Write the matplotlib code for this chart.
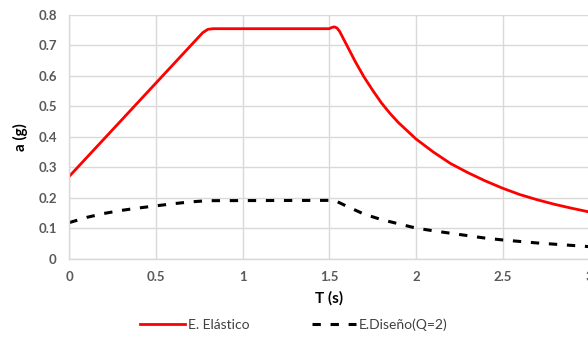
import matplotlib
matplotlib.use("Agg")
import matplotlib.pyplot as plt
from matplotlib.lines import Line2D

plt.rcParams['lines.scale_dashes'] = False

# Elastic spectrum (red)
T_el = [0.0, 0.77, 0.80, 0.83, 1.50, 1.515, 1.53, 1.545, 1.56, 1.60, 1.65, 1.70, 1.75,
        1.80, 1.85, 1.90, 2.0, 2.1, 2.2, 2.3, 2.4, 2.5, 2.6, 2.7, 2.8, 2.9, 3.0]
a_el = [0.27, 0.742, 0.753, 0.755, 0.755, 0.759, 0.761, 0.757, 0.746, 0.702, 0.647,
        0.597, 0.553, 0.512, 0.477, 0.446, 0.393, 0.350, 0.312, 0.282, 0.255, 0.231,
        0.210, 0.193, 0.178, 0.165, 0.153]

# Design spectrum (black dashed)
T_di = [0.0, 0.1, 0.2, 0.3, 0.4, 0.5, 0.6, 0.7, 0.8, 1.53, 1.6, 1.7, 1.8, 1.9, 2.0,
        2.1, 2.2, 2.3, 2.4, 2.5, 2.6, 2.7, 2.8, 2.9, 3.0]
a_di = [0.118, 0.135, 0.148, 0.158, 0.166, 0.173, 0.180, 0.186, 0.190, 0.191, 0.172,
        0.146, 0.128, 0.114, 0.100, 0.091, 0.083, 0.075, 0.067, 0.061, 0.056, 0.051,
        0.047, 0.043, 0.039]

xticks = [0, 0.5, 1, 1.5, 2, 2.5, 3]
xtick_labels = ["0", "0.5", "1", "1.5", "2", "2.5", "3"]
yticks = [0, 0.1, 0.2, 0.3, 0.4, 0.5, 0.6, 0.7, 0.8]
ytick_labels = ["0", "0.1", "0.2", "0.3", "0.4", "0.5", "0.6", "0.7", "0.8"]

font = "Lato"
fig = plt.figure(figsize=(5.88, 3.43), dpi=100)
ax = fig.add_axes([69.3/588, 1-258.5/343, (589.2-69.3)/588, (258.5-15)/343])

ax.plot(T_el, a_el, color="#ff0000", lw=2.0, label="E. Elástico",
        solid_joinstyle="round")
ax.plot(T_di, a_di, color="black", lw=2.2, dashes=(6, 7), label="E.Diseño(Q=2)")

ax.set_xlim(0, 3)
ax.set_ylim(0, 0.8)
ax.set_xticks(xticks)
ax.set_xticklabels(xtick_labels)
ax.set_yticks(yticks)
ax.set_yticklabels(ytick_labels)
ax.grid(True, color="#d9d9d9", lw=1.0)
ax.set_axisbelow(True)
for s in ["top", "right"]:
    ax.spines[s].set_visible(False)
for s in ["left", "bottom"]:
    ax.spines[s].set_color("#d9d9d9")
    ax.spines[s].set_linewidth(1.0)
ax.tick_params(length=0, pad=9, labelsize=9.5, colors="#595959")
for lab in ax.get_xticklabels() + ax.get_yticklabels():
    lab.set_fontweight("bold")
    lab.set_fontfamily(font)

ax.set_xlabel("T (s)", fontsize=11, fontweight="bold", fontfamily=font, labelpad=6)
ax.set_ylabel("a (g)", fontsize=11, fontweight="bold", fontfamily=font, labelpad=7)

handles = [Line2D([], [], color="#ff0000", lw=2.0),
           Line2D([], [], color="black", lw=2.2, dashes=(6, 7))]
leg = fig.legend(handles, ["E. Elástico", "E.Diseño(Q=2)"], loc="center",
                 bbox_to_anchor=(0.5, 1-325/343), ncol=2, frameon=False,
                 prop={"family": font, "size": 10}, handlelength=3.2,
                 handletextpad=0.2, columnspacing=4.5)
for t in leg.get_texts():
    t.set_color("#404040")

fig.savefig("out.png", dpi=100)
